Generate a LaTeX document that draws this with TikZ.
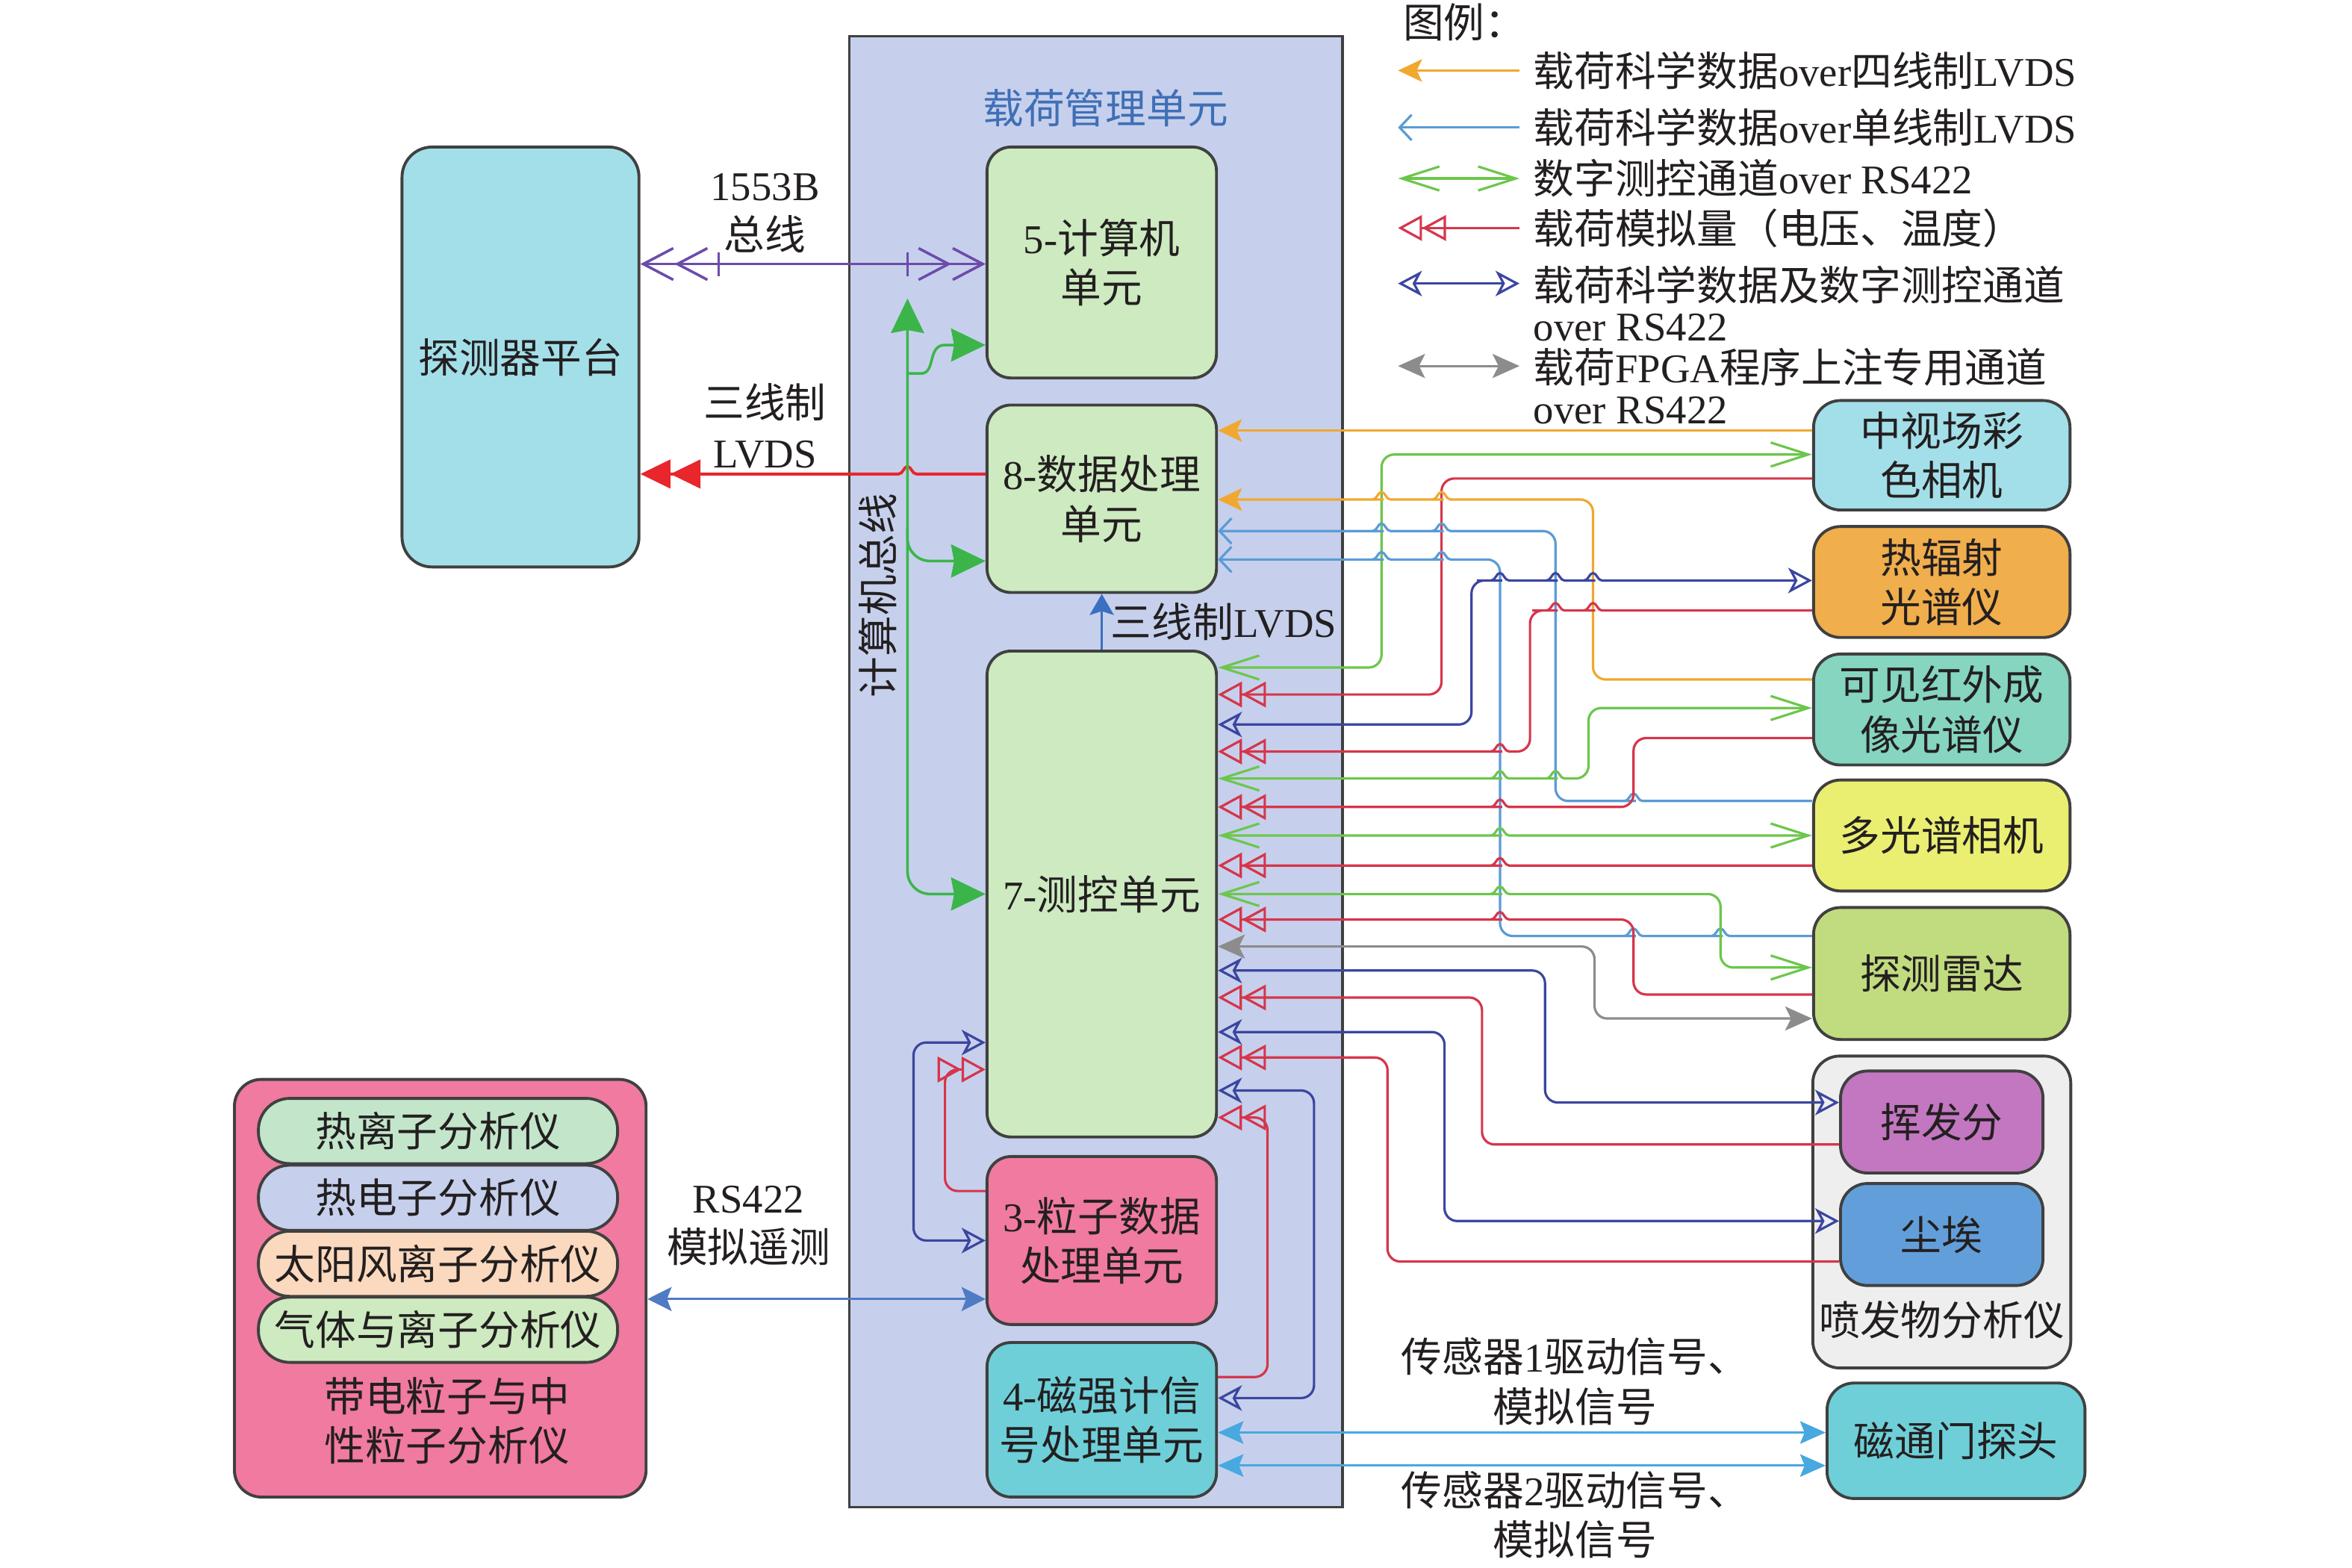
\documentclass[tikz,border=0pt]{standalone}
\usepackage{fontspec}
\setmainfont{Liberation Serif}
\newfontfamily\cjkfont{Noto Sans CJK SC}
\usetikzlibrary{arrows.meta,positioning}
% switch to the CJK font for Han characters
\XeTeXinterchartokenstate=1
\newXeTeXintercharclass\hanclass
\makeatletter
\count@="3000
\loop\ifnum\count@<"A000 \XeTeXcharclass\count@=\hanclass\advance\count@\@ne\repeat
\count@="FF00
\loop\ifnum\count@<"FFF0 \XeTeXcharclass\count@=\hanclass\advance\count@\@ne\repeat
\makeatother
\XeTeXinterchartoks 0 \hanclass = {\begingroup\cjkfont}
\XeTeXinterchartoks 4095 \hanclass = {\begingroup\cjkfont}
\XeTeXinterchartoks \hanclass 0 = {\endgroup}
\XeTeXinterchartoks \hanclass 4095 = {\endgroup}
\definecolor{ink}{HTML}{231F20}
\definecolor{edge}{HTML}{404040}
\definecolor{pmuf}{HTML}{C6D0EC}
\definecolor{ttl}{HTML}{3F6FB6}
\definecolor{unitf}{HTML}{CDEAC0}
\definecolor{platf}{HTML}{A3DFE9}
\definecolor{pinkf}{HTML}{F07AA0}
\definecolor{cyanf}{HTML}{6ECFD8}
\definecolor{orgf}{HTML}{F0AE4C}
\definecolor{tealf}{HTML}{85D5C0}
\definecolor{yelf}{HTML}{EAEF72}
\definecolor{olvf}{HTML}{C1DB7F}
\definecolor{greyf}{HTML}{EEEEEE}
\definecolor{purf}{HTML}{C277C0}
\definecolor{bluef}{HTML}{629FDA}
\definecolor{pillA}{HTML}{C3E6CB}
\definecolor{pillC}{HTML}{FBD9BE}
\definecolor{cA}{HTML}{F0A830}
\definecolor{cB}{HTML}{5B9BD5}
\definecolor{cG}{HTML}{6CC64C}
\definecolor{cR}{HTML}{D6354B}
\definecolor{cN}{HTML}{3B46A0}
\definecolor{cF}{HTML}{8C8C8C}
\definecolor{cMil}{HTML}{6D4BAA}
\definecolor{cBus}{HTML}{3BB54A}
\definecolor{cLv}{HTML}{E8262B}
\definecolor{cLv3}{HTML}{3A6FC1}
\definecolor{cRs}{HTML}{4F7BC4}
\definecolor{cMag}{HTML}{48A8E0}
\tikzset{
    pmubox/.style = {draw=edge, line width=0.9pt, fill=pmuf},
    unit/.style = {draw=edge, line width=1.1pt, rounded corners=0.32cm,
        fill=unitf, minimum width=3.06cm, align=center},
    inst/.style = {draw=edge, line width=1.1pt, rounded corners=0.36cm,
        minimum width=3.42cm, align=center},
    pill/.style = {draw=edge, line width=1.1pt, rounded corners=0.42cm,
        minimum width=4.79cm, minimum height=0.87cm},
    lbl/.style = {align=center},
    legtxt/.style = {anchor=west, inner sep=0pt, align=left},
    conn/.style = {line width=0.9pt, rounded corners=0.17cm},
    lsA/.style = {conn, draw=cA},
    lsB/.style = {conn, draw=cB},
    lsG/.style = {conn, draw=cG},
    lsR/.style = {conn, draw=cR},
    lsN/.style = {conn, draw=cN},
    lsF/.style = {conn, draw=cF},
    lsMil/.style = {line width=1pt, draw=cMil},
    lsBus/.style = {line width=1pt, draw=cBus, rounded corners=0.3cm},
    lsLv/.style = {line width=1.1pt, draw=cLv},
    lsLv3/.style = {line width=1pt, draw=cLv3},
    lsRs/.style = {line width=0.9pt, draw=cRs},
    lsMag/.style = {line width=0.9pt, draw=cMag},
    tipOr/.tip = {Stealth[length=0.32cm,width=0.3cm,inset=0.07cm]},
    tipLb/.tip = {Straight Barb[length=0.16cm,width=0.34cm]},
    tipGr/.tip = {Straight Barb[length=0.5cm,width=0.32cm]},
    tipAn/.tip = {Triangle[open,length=0.32cm,width=0.34cm,sep=0pt]Triangle[open,length=0.32cm,width=0.34cm,sep=0pt]},
    tipNv/.tip = {Stealth[open,length=0.32cm,width=0.34cm,inset=0.09cm]},
    tipFp/.tip = {Stealth[length=0.36cm,width=0.32cm,inset=0.08cm]},
    tipMil/.tip = {Straight Barb[length=0.4cm,width=0.42cm,sep=0pt]Straight Barb[length=0.4cm,width=0.42cm,sep=0pt]},
    tipLv/.tip = {Triangle[length=0.4cm,width=0.38cm,sep=0pt]Triangle[length=0.4cm,width=0.38cm,sep=0pt]},
    tipBus/.tip = {Stealth[length=0.46cm,width=0.44cm,inset=0.04cm]},
    tipLv3/.tip = {Stealth[length=0.28cm,width=0.32cm,inset=0.05cm]},
    tipRs/.tip = {Stealth[length=0.32cm,width=0.32cm,inset=0.06cm]},
    tipMag/.tip = {Stealth[length=0.34cm,width=0.3cm,inset=0.06cm]}
}
% small bump where a horizontal line passes over a vertical one
\newcommand{\hopover}[2]{-- (#1-7,#2) [sharp corners] -- (#1-6,#2)
    .. controls (#1-3,#2) and (#1-2.5,#2-5) .. (#1,#2-5)
    .. controls (#1+2.5,#2-5) and (#1+3,#2) .. (#1+6,#2) -- (#1+8,#2) [rounded corners=0.17cm]}

\begin{document}
\begin{tikzpicture}[x=0.02cm, y=-0.02cm, font=\fontsize{15.5}{18.8}\selectfont, text=ink]
    \useasboundingbox (0,0) rectangle (1568,1045);

    \node [pmubox, minimum width=6.58cm, minimum height=19.62cm] (pmu) at (730.5,514.5) {};
    \node [text=ttl] (pmutitle) at (737,72) {载荷管理单元};
    \node [lbl, rotate=90] (buslab) at (585,397) {计算机总线};

    \node [unit, minimum height=3.08cm] (cmp) at (734.5,175) {5-计算机\\单元};
    \node [unit, minimum height=2.5cm] (dpu) at (734.5,332.5) {8-数据处理\\单元};
    \node [unit, minimum height=6.48cm] (tcu) at (734.5,596) {7-测控单元};
    \node [unit, fill=pinkf, minimum height=2.24cm] (ppu) at (734.5,827) {3-粒子数据\\处理单元};
    \node [unit, fill=cyanf, minimum height=2.06cm] (mpu) at (734.5,946.5) {4-磁强计信\\号处理单元};

    \node [unit, fill=platf, minimum width=3.16cm, minimum height=5.6cm, rounded corners=0.4cm] (plat) at (347,238) {探测器平台};

    \node [inst, fill=pinkf, minimum width=5.49cm, minimum height=5.57cm] (cpa) at (293.5,858.8) {};
    \node [pill, fill=pillA] (tia) at (292,754) {热离子分析仪};
    \node [pill, fill=pmuf] (tea) at (292,798.5) {热电子分析仪};
    \node [pill, fill=pillC] (swa) at (292,842.5) {太阳风离子分析仪};
    \node [pill, fill=unitf] (gia) at (292,886.5) {气体与离子分析仪};
    \node [lbl] (cpalab) at (298,947) {带电粒子与中\\性粒子分析仪};

    \node [inst, fill=platf, minimum height=1.46cm] (mcam) at (1294.5,303.5) {中视场彩\\色相机};
    \node [inst, fill=orgf, minimum height=1.48cm] (tirs) at (1294.5,388) {热辐射\\光谱仪};
    \node [inst, fill=tealf, minimum height=1.48cm] (vnis) at (1294.5,473) {可见红外成\\像光谱仪};
    \node [inst, fill=yelf, minimum height=1.48cm] (msc) at (1294.5,557) {多光谱相机};
    \node [inst, fill=olvf, minimum height=1.76cm] (radar) at (1294.5,649) {探测雷达};
    \node [inst, fill=greyf, minimum width=3.44cm, minimum height=4.16cm] (ejg) at (1294.5,808) {};
    \node [inst, fill=purf, minimum width=2.7cm, minimum height=1.36cm] (vola) at (1294.5,748) {挥发分};
    \node [inst, fill=bluef, minimum width=2.7cm, minimum height=1.36cm] (dust) at (1294.5,823) {尘埃};
    \node [lbl] (ejlab) at (1294.5,880) {喷发物分析仪};
    \node [inst, fill=cyanf, minimum width=3.44cm, minimum height=1.54cm] (fgm) at (1304,960.5) {磁通门探头};

    \node [lbl] (l1553) at (510,142) {1553B\\总线};
    \node [lbl] (llvds) at (510,284) {三线制\\LVDS};
    \node [lbl] (lrs) at (499,817) {RS422\\模拟遥测};
    \node [lbl] (ls1) at (1050,921) {传感器1驱动信号、\\模拟信号};
    \node [lbl] (ls2) at (1050,1010) {传感器2驱动信号、\\模拟信号};

    % platform links and computer bus
    \draw [lsMil, tipMil-tipMil] (plat.east |- 0,176) -- (cmp.west |- 0,176);
    \draw [lsMil] (479,168) -- (479,184) (605,168) -- (605,184);
    \draw [lsLv, tipLv-] (plat.east |- 0,316) \hopover{605}{316} -- (dpu.west |- 0,316);
    \coordinate (bustop) at (605,199);
    \coordinate (tap5) at (605,249);
    \coordinate (tap8) at (605,352);
    \draw [lsBus, tipBus-tipBus] (bustop) -- (605,596) -- (tcu.west |- 0,596);
    \draw [lsBus, -tipBus] (tap8) -- (605,374) -- (dpu.west |- 0,374);
    \draw [lsBus, sharp corners, -tipBus] (tap5) -- (614,249) .. controls (624,249) and (618,230) .. (630,230) -- (cmp.west |- 0,230);
    \draw [lsLv3, -tipLv3] (tcu.north) -- node [right, inner sep=3pt] {三线制LVDS} (dpu.south);

    \draw [lsN, tipNv-tipNv] (tcu.west |- 0,695) -- (609,695) -- (609,827) -- (ppu.west |- 0,827);
    \draw [lsR, -tipAn] (ppu.west |- 0,794) -- (630,794) -- (630,713) -- (tcu.west |- 0,713);
    \draw [lsRs, tipRs-tipRs] (cpa.east |- 0,866) -- (ppu.west |- 0,866);
    \draw [lsMag, tipMag-tipMag] (mpu.east |- 0,955) -- (fgm.west |- 0,955);
    \draw [lsMag, tipMag-tipMag] (mpu.east |- 0,977) -- (fgm.west |- 0,977);

    % payload links
    \draw [lsA, tipOr-] (dpu.east |- 0,287) -- (mcam.west |- 0,287);
    \draw [lsG, tipGr-tipGr] (tcu.east |- 0,445) -- (921,445) -- (921,303) -- (mcam.west |- 0,303);
    \draw [lsR, tipAn-] (tcu.east |- 0,463) -- (961,463) -- (961,319) -- (mcam.west |- 0,319);
    \draw [lsA, tipOr-] (dpu.east |- 0,333) \hopover{921}{333} \hopover{961}{333} -- (1062,333) -- (1062,453) -- (vnis.west |- 0,453);
    \draw [lsB, tipLb-] (dpu.east |- 0,354) \hopover{921}{354} \hopover{961}{354} -- (1037,354) -- (1037,534) \hopover{1089}{534} -- (msc.west |- 0,534);
    \draw [lsB, tipLb-] (dpu.east |- 0,373) \hopover{921}{373} \hopover{961}{373} -- (1000,373) -- (1000,624) \hopover{1089}{624} \hopover{1147}{624} -- (radar.west |- 0,624);
    \draw [lsN, tipNv-tipNv] (tcu.east |- 0,483) -- (981,483) -- (981,387) \hopover{1000}{387} \hopover{1037}{387} \hopover{1062}{387} -- (tirs.west |- 0,387);
    \draw [lsR, tipAn-] (tcu.east |- 0,501) \hopover{1000}{501} -- (1020,501) -- (1020,407) \hopover{1037}{407} \hopover{1062}{407} -- (tirs.west |- 0,407);
    \draw [lsG, tipGr-tipGr] (tcu.east |- 0,519) \hopover{1000}{519} \hopover{1037}{519} -- (1059,519) -- (1059,472) -- (vnis.west |- 0,472);
    \draw [lsR, tipAn-] (tcu.east |- 0,538) \hopover{1000}{538} -- (1089,538) -- (1089,492) -- (vnis.west |- 0,492);
    \draw [lsG, tipGr-tipGr] (tcu.east |- 0,557) \hopover{1000}{557} -- (msc.west |- 0,557);
    \draw [lsR, tipAn-] (tcu.east |- 0,577) \hopover{1000}{577} -- (msc.west |- 0,577);
    \draw [lsG, tipGr-tipGr] (tcu.east |- 0,596) \hopover{1000}{596} -- (1147,596) -- (1147,645) -- (radar.west |- 0,645);
    \draw [lsR, tipAn-] (tcu.east |- 0,613) \hopover{1000}{613} -- (1089,613) -- (1089,663) -- (radar.west |- 0,663);
    \draw [lsF, tipFp-tipFp] (tcu.east |- 0,631) -- (1063,631) -- (1063,679) -- (radar.west |- 0,679);
    \draw [lsN, tipNv-tipNv] (tcu.east |- 0,647) -- (1030,647) -- (1030,735) -- (vola.west |- 0,735);
    \draw [lsR, tipAn-] (tcu.east |- 0,665) -- (988,665) -- (988,763) -- (vola.west |- 0,763);
    \draw [lsN, tipNv-tipNv] (tcu.east |- 0,688) -- (963,688) -- (963,814) -- (dust.west |- 0,814);
    \draw [lsR, tipAn-] (tcu.east |- 0,705) -- (925,705) -- (925,841) -- (dust.west |- 0,841);
    \draw [lsN, tipNv-tipNv] (tcu.east |- 0,727) -- (876,727) -- (876,932) -- (mpu.east |- 0,932);
    \draw [lsR, tipAn-] (tcu.east |- 0,745) -- (845,745) -- (845,918) -- (mpu.east |- 0,918);

    % legend
    \node [legtxt] (lg0) at (935,15) {图例：};
    \draw [lsA, tipOr-] (932,47) -- (1013,47);
    \node [legtxt] (lg1) at (1022,47) {载荷科学数据over四线制LVDS};
    \draw [lsB, tipLb-] (932,85) -- (1013,85);
    \node [legtxt] (lg2) at (1022,85) {载荷科学数据over单线制LVDS};
    \draw [lsG, tipGr-tipGr] (932,119) -- (1013,119);
    \node [legtxt] (lg3) at (1022,119) {数字测控通道over RS422};
    \draw [lsR, tipAn-] (932,152) -- (1013,152);
    \node [legtxt] (lg4) at (1022,152) {载荷模拟量（电压、温度）};
    \draw [lsN, tipNv-tipNv] (932,189) -- (1013,189);
    \node [legtxt, font=\fontsize{15.5}{15.4}\selectfont] (lg5) at (1022,202.5) {载荷科学数据及数字测控通道\\over RS422};
    \draw [lsF, tipFp-tipFp] (932,244) -- (1013,244);
    \node [legtxt, font=\fontsize{15.5}{15.4}\selectfont] (lg6) at (1022,257.5) {载荷FPGA程序上注专用通道\\over RS422};
\end{tikzpicture}
\end{document}
